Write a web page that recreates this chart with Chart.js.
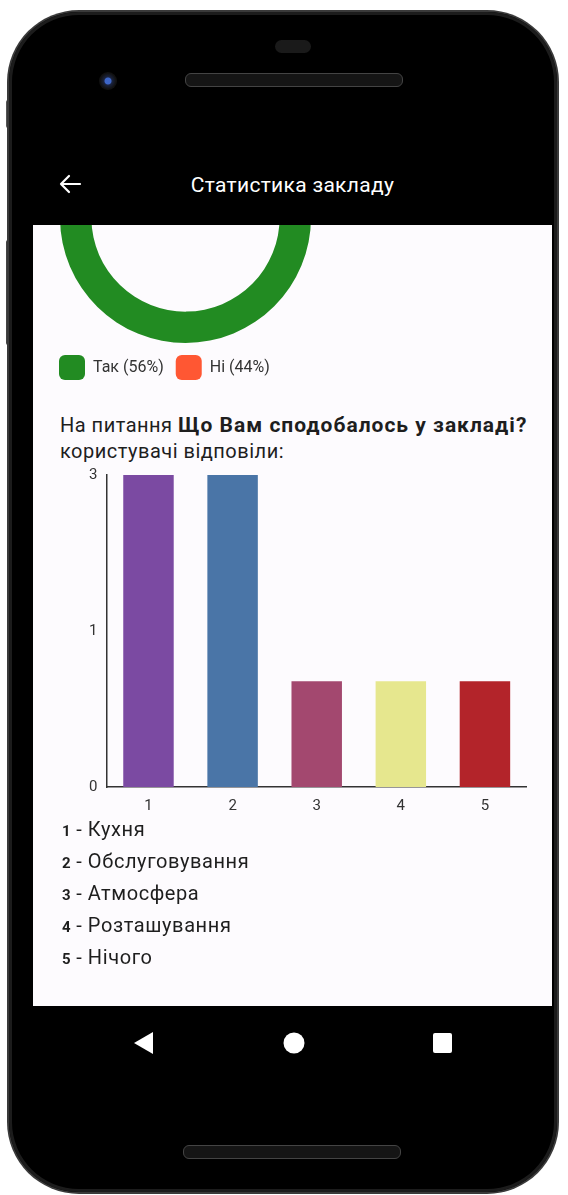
<!DOCTYPE html>
<html>
<head>
<meta charset="utf-8">
<script src="https://cdn.jsdelivr.net/npm/chart.js@4.4.1/dist/chart.umd.min.js"></script>
<style>
  html, body { margin: 0; padding: 0; }
  body { width: 568px; height: 1195px; background: #fff; position: relative; overflow: hidden; font-family: Roboto, "Noto Sans", sans-serif; }
  .phone { position: absolute; left: 9px; top: 12px; width: 548px; height: 1180px; border-radius: 70px; background: #000;
           box-shadow: 0 0 0 2px #3a3a3a, inset 0 0 0 3px #1c1c1c; }
  .btn-side { position: absolute; left: 6px; width: 4px; background: #555; border-radius: 2px; }
  .earpiece { position: absolute; left: 275px; top: 40px; width: 36px; height: 13px; border-radius: 7px; background: #1a1a1a; }
  .speaker { position: absolute; width: 216px; height: 12px; border-radius: 6px; background: #151515; border: 1px solid #444; }
  .camera { position: absolute; left: 99px; top: 72px; width: 18px; height: 18px; border-radius: 50%; background: radial-gradient(circle, #3d66c9 0 3px, #1b2440 4px, #111 8px); }
  .title { position: absolute; left: 33px; width: 519px; top: 172px; text-align: center; font-size: 21px; letter-spacing: 0.3px; line-height: 26px; color: #fff; }
  .screen { position: absolute; left: 33px; top: 225px; width: 519px; height: 781px; background: #fdfbfe; overflow: hidden; }
  .box { position: absolute; }
  .question { position: absolute; left: 27px; top: 187px; font-size: 20px; letter-spacing: 0.5px; line-height: 26px; color: #1e1e1e; white-space: nowrap; }
  .question b { font-size: 21px; letter-spacing: 1px; }
  .list { position: absolute; left: 29px; top: 588px; color: #1e1e1e; }
  .list div { height: 32px; line-height: 32px; font-size: 20px; letter-spacing: 0.6px; }
  .list b { font-size: 15px; font-weight: 700; letter-spacing: 0; }
  .nav { position: absolute; top: 1031px; }
</style>
</head>
<body>
<div class="btn-side" style="top:100px;height:28px"></div>
<div class="btn-side" style="top:240px;height:105px;background:#444"></div>
<div class="phone"></div>
<div class="earpiece"></div>
<div class="speaker" style="left:185px;top:73px"></div>
<div class="camera"></div>
<svg style="position:absolute;left:58px;top:174px" width="24" height="20">
  <path d="M3 10 H22 M11 2 L3 10 L11 18" stroke="#fff" stroke-width="2.2" fill="none" stroke-linecap="round" stroke-linejoin="round"/>
</svg>
<div class="title">Статистика закладу</div>

<div class="screen">
  <div class="box" style="left:14px;top:-133px;width:277px;height:298px"><canvas id="pie"></canvas></div>
  <div class="question">На питання <b>Що Вам сподобалось у закладі?</b><br>користувачі відповіли:</div>
  <div class="box" style="left:47px;top:232px;width:447px;height:368px"><canvas id="bars"></canvas></div>
  <div class="list" id="list"></div>
</div>

<svg class="nav" style="left:133px" width="22" height="24"><polygon points="20,1 20,23 1,12" fill="#fff"/></svg>
<svg class="nav" style="left:282px" width="24" height="24"><circle cx="12" cy="12" r="10.5" fill="#fff"/></svg>
<svg class="nav" style="left:432px" width="22" height="24"><rect x="1" y="2" width="19" height="20" rx="2" fill="#fff"/></svg>
<div class="speaker" style="left:183px;top:1145px"></div>

<script>
const pieLabels = ["Так (56%)", "Ні (44%)"];
const pieValues = [56, 44];
const pieColors = ["#228b22", "#ff5733"];

const barLabels = ["1", "2", "3", "4", "5"];
const barValues = [3, 3, 0.6, 0.6, 0.6];
const barColors = ["#7b4aa2", "#4a75a7", "#a3486f", "#e6e78e", "#b3242a"];
const yTicks = [0, 1, 3];

const answers = ["Кухня", "Обслуговування", "Атмосфера", "Розташування", "Нічого"];

// the app draws its y axis as log(1 + v)
class Log1pScale extends Chart.LinearScale {
  getPixelForValue(value) {
    return this.getPixelForDecimal(Math.log1p(value) / Math.log1p(this.max));
  }
  getValueForPixel(pixel) {
    return Math.expm1(this.getDecimalForPixel(pixel) * Math.log1p(this.max));
  }
}
Log1pScale.id = "log1p";
Log1pScale.defaults = Chart.LinearScale.defaults;
Chart.register(Log1pScale);

Chart.defaults.font.family = "Roboto, 'Noto Sans', sans-serif";
Chart.defaults.color = "#333";
Chart.defaults.animation = false;

new Chart(document.getElementById("pie"), {
  type: "doughnut",
  data: {
    labels: pieLabels,
    datasets: [{ data: pieValues, backgroundColor: pieColors, borderWidth: 0 }],
  },
  options: {
    responsive: true,
    maintainAspectRatio: false,
    cutout: "75%",
    rotation: 90,
    plugins: {
      tooltip: { enabled: false },
      legend: {
        position: "bottom",
        align: "start",
        labels: {
          boxWidth: 26,
          boxHeight: 25,
          useBorderRadius: true,
          borderRadius: 6,
          padding: 12,
          color: "#333",
          font: { size: 16 },
        },
      },
    },
  },
});

new Chart(document.getElementById("bars"), {
  type: "bar",
  data: {
    labels: barLabels,
    datasets: [{
      data: barValues,
      backgroundColor: barColors,
      barPercentage: 0.75,
      categoryPercentage: 0.8,
    }],
  },
  options: {
    responsive: true,
    maintainAspectRatio: false,
    plugins: { legend: { display: false }, tooltip: { enabled: false } },
    scales: {
      x: {
        grid: { display: false, drawTicks: false },
        border: { display: true, color: "#333", width: 1.5 },
        ticks: { padding: 10, color: "#333", font: { size: 15 } },
      },
      y: {
        type: "log1p",
        min: 0,
        max: 3,
        afterBuildTicks: (scale) => {
          scale.ticks = yTicks.map((v) => ({ value: v }));
        },
        grid: { display: false, drawTicks: false },
        border: { display: true, color: "#333", width: 1.5 },
        ticks: { padding: 9, color: "#333", font: { size: 15 } },
      },
    },
  },
});

document.getElementById("list").innerHTML = answers
  .map((name, i) => `<div><b>${i + 1}</b> - ${name}</div>`)
  .join("");
</script>
</body>
</html>
